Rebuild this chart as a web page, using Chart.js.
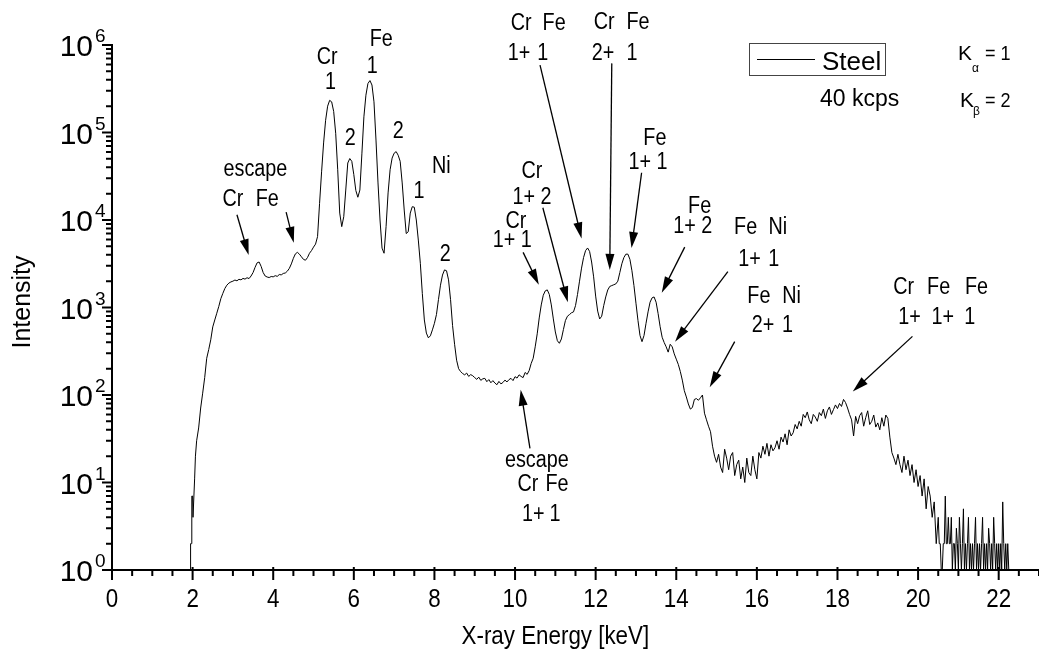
<!DOCTYPE html>
<html>
<head>
<meta charset="utf-8">
<script src="https://cdn.jsdelivr.net/npm/chart.js@4.4.1/dist/chart.umd.min.js"></script>
<style>
  html, body { margin:0; padding:0; background:#fff; }
  #wrap { width:1039px; height:660px; }
</style>
</head>
<body>
<div id="wrap"><canvas id="chart" width="1039" height="660"></canvas></div>
<script>
// ---- spectrum (X-ray energy in keV, counts per channel)
const energy = [
  1.94,1.95,1.97,1.98,2.00,2.01,2.03,2.05,2.07,2.10,
  2.15,2.20,2.25,2.30,2.35,2.40,2.45,
  2.50,2.55,2.60,2.65,2.70,2.75,2.80,2.85,2.90,2.95,
  3.00,3.05,3.10,3.15,3.20,3.25,3.30,3.35,3.40,3.45,
  3.50,3.55,3.60,3.65,3.70,3.75,3.80,3.85,3.90,3.95,
  4.00,4.05,4.10,4.15,4.20,4.25,4.30,4.35,4.40,4.45,
  4.50,4.55,4.60,4.65,4.70,4.75,4.80,4.85,4.90,4.95,
  5.00,5.05,5.10,5.15,5.20,5.25,5.30,5.35,5.40,5.45,
  5.50,5.55,5.60,5.65,5.70,5.75,5.80,5.85,5.90,5.95,
  6.00,6.05,6.10,6.15,6.20,6.25,6.30,6.35,6.40,6.45,
  6.50,6.55,6.60,6.65,6.70,6.75,6.80,6.85,6.90,6.95,
  7.00,7.05,7.10,7.15,7.20,7.25,7.30,7.35,7.40,7.45,
  7.50,7.55,7.60,7.65,7.70,7.75,7.80,7.85,7.90,7.95,
  8.00,8.05,8.10,8.15,8.20,8.25,8.30,8.35,8.40,8.45,
  8.50,8.55,8.60,8.65,8.70,8.75,8.80,8.85,8.90,8.95,
  9.00,9.05,9.10,9.15,9.20,9.25,9.30,9.35,9.40,9.45,
  9.50,9.55,9.60,9.65,9.70,9.75,9.80,9.85,9.90,9.95,
  10.00,10.05,10.10,10.15,10.20,10.25,10.30,10.35,10.40,10.45,
  10.50,10.55,10.60,10.65,10.70,10.75,10.80,10.85,10.90,10.95,
  11.00,11.05,11.10,11.15,11.20,11.25,11.30,11.35,11.40,11.45,
  11.50,11.55,11.60,11.65,11.70,11.75,11.80,11.85,11.90,11.95,
  12.00,12.05,12.10,12.15,12.20,12.25,12.30,12.35,12.40,12.45,
  12.50,12.55,12.60,12.65,12.70,12.75,12.80,12.85,12.90,12.95,
  13.00,13.05,13.10,13.15,13.20,13.25,13.30,13.35,13.40,13.45,
  13.50,13.55,13.60,13.65,13.70,13.75,13.80,13.85,13.90,13.95,
  14.00,14.05,14.10,14.15,14.20,14.25,14.30,14.35,14.40,14.45,
  14.50,14.55,14.60,14.65,14.70,14.75,14.80,14.85,14.90,14.95,
  15.00,15.05,15.10,15.15,15.20,15.25,15.30,15.35,15.40,15.45,
  15.50,15.55,15.60,15.65,15.70,15.75,15.80,15.85,15.90,15.95,
  16.00,16.05,16.10,16.15,16.20,16.25,16.30,16.35,16.40,16.45,
  16.50,16.55,16.60,16.65,16.70,16.75,16.80,16.85,16.90,16.95,
  17.00,17.05,17.10,17.15,17.20,17.25,17.30,17.35,17.40,17.45,
  17.50,17.55,17.60,17.65,17.70,17.75,17.80,17.85,17.90,17.95,
  18.00,18.05,18.10,18.15,18.20,18.25,18.30,18.35,18.40,18.45,
  18.50,18.55,18.60,18.65,18.70,18.75,18.80,18.85,18.90,18.95,
  19.00,19.05,19.10,19.15,19.20,19.25,19.30,19.35,19.40,19.45,
  19.50,19.55,19.60,19.65,19.70,19.75,19.80,19.85,19.90,19.95,
  20.00,20.05,20.10,20.15,20.20,20.25,20.30,20.35,20.40,20.45,
  20.500,20.525,20.550,20.575,20.600,20.625,20.650,20.675,20.700,20.725,
  20.750,20.775,20.800,20.825,20.850,20.875,20.900,20.925,20.950,20.975,
  21.000,21.025,21.050,21.075,21.100,21.125,21.150,21.175,21.200,21.225,
  21.250,21.275,21.300,21.325,21.350,21.375,21.400,21.425,21.450,21.475,
  21.500,21.525,21.550,21.575,21.600,21.625,21.650,21.675,21.700,21.725,
  21.750,21.775,21.800,21.825,21.850,21.875,21.900,21.925,21.950,21.975,
  22.000,22.025,22.050,22.075,22.100,22.125,22.150,22.175,22.200,22.225,
  22.250
];
const counts = [
  1,2,2,7,7,4,4,11,20,30,
  42,71,105,158,263,331,427,
  600,720,860,1030,1260,1450,1650,1800,1900,1960,
  2000,2060,2020,2100,2070,2150,2110,2190,2140,2290,
  2510,2880,3240,3310,2950,2510,2290,2230,2200,2260,
  2240,2310,2270,2380,2360,2450,2480,2600,2800,3150,
  3650,4100,4270,4070,3800,3550,3470,3720,4170,4470,
  4900,5300,6460,15500,35500,76000,138000,200000,233000,224000,
  174000,98000,37500,12000,8400,10900,22000,44800,50400,46800,
  33000,21700,18200,22000,57000,151000,267000,363000,392000,349000,
  224000,82000,26500,10000,4770,4170,8400,20400,37500,51000,
  58000,60500,55000,46800,26500,13000,7000,7350,12000,14200,
  14000,10000,5900,3200,1440,720,510,450,475,555,
  660,830,1230,1800,2350,2690,2630,2070,1230,620,
  380,250,200,185,176,170,178,163,171,166,
  158,151,160,147,153,155,142,150,138,146,
  137,131,143,134,139,148,141,150,155,146,
  162,156,170,163,158,181,172,190,229,263,
  355,500,760,1070,1380,1550,1590,1410,1070,740,
  525,417,390,437,560,710,795,830,870,890,
  1050,1410,2000,2820,3720,4470,4790,4370,3310,2240,
  1350,910,740,795,1050,1320,1585,1740,1780,1820,
  1860,2000,2510,3160,3720,4070,4070,3550,2630,1780,
  1120,710,479,407,479,660,891,1150,1290,1320,
  1150,851,603,457,398,355,309,380,355,295,
  257,224,186,148,112,95,79,69,72,89,
  91,87,93,100,62,52,44,38,26,20,
  17,21,15,13,24,19,14,20,22,12,
  16,18,11,15,10,19,13,12,20,14,
  11,22,19,26,21,28,20,27,23,25,
  30,24,33,29,36,27,40,34,37,46,
  41,50,44,60,55,64,52,47,60,56,
  50,63,58,69,54,66,73,60,68,77,
  70,80,74,89,82,71,60,52,34,57,
  47,58,63,44,55,66,46,50,59,43,
  48,40,55,44,59,54,33,22,19,16,
  21,16,13,20,14,18,12,16,10,14,
  9,12,7,11,5,9,7,4,6,2,
  4,2,2,1,1,2,2,7,2,2,
  4,2,2,4,1,2,2,1,3,2,
  1,4,2,1,2,5,1,2,1,2,
  4,1,2,1,2,1,2,4,1,2,
  1,2,1,2,4,1,2,1,2,1,
  3,2,1,2,1,4,2,1,2,1,
  2,1,2,1,6,2,1,2,1,2,
  1
];

// ---- axes
const xTickLabels = ['0','2','4','6','8','10','12','14','16','18','20','22'];
const yDecades = [0,1,2,3,4,5,6];

// ---- annotations: [text, keV, log10(intensity)]
const peakLabels = [
  ['escape', 3.56, 4.57], ['Cr', 3.00, 4.23], ['Fe', 3.85, 4.23],
  ['Cr', 5.34, 5.86], ['1', 5.42, 5.57],
  ['Fe', 6.68, 6.06], ['1', 6.46, 5.75],
  ['2', 5.91, 4.93], ['2', 7.10, 5.01],
  ['Ni', 8.17, 4.61], ['1', 7.62, 4.32], ['2', 8.27, 3.60],
  ['Cr', 10.15, 6.24], ['Fe', 10.97, 6.24], ['1+', 10.10, 5.90], ['1', 10.69, 5.90],
  ['Cr', 12.21, 6.26], ['Fe', 13.05, 6.26], ['2+', 12.18, 5.90], ['1', 12.90, 5.90],
  ['Fe', 13.47, 4.93], ['1+ 1', 13.30, 4.66],
  ['Cr', 10.42, 4.55], ['1+ 2', 10.42, 4.25],
  ['Cr', 10.02, 3.98], ['1+ 1', 9.93, 3.76],
  ['Fe', 14.58, 4.15], ['1+ 2', 14.41, 3.92],
  ['Fe', 15.72, 3.91], ['Ni', 16.52, 3.91], ['1+', 15.82, 3.55], ['1', 16.42, 3.55],
  ['Fe', 16.05, 3.12], ['Ni', 16.86, 3.12], ['2+', 16.15, 2.79], ['1', 16.76, 2.79],
  ['Cr', 19.64, 3.23], ['Fe', 20.51, 3.23], ['Fe', 21.45, 3.23],
  ['1+', 19.79, 2.88], ['1+', 20.61, 2.88], ['1', 21.28, 2.88],
  ['escape', 10.54, 1.25], ['Cr', 10.32, 0.97], ['Fe', 11.04, 0.97],
  ['1+', 10.45, 0.63], ['1', 10.99, 0.63]
];
// [tail keV, tail log10, tip keV, tip log10]
const arrows = [
  [3.10, 4.06, 3.39, 3.60],
  [4.32, 4.09, 4.51, 3.74],
  [10.62, 5.77, 11.65, 3.79],
  [12.40, 5.79, 12.35, 3.43],
  [13.14, 4.54, 12.89, 3.68],
  [10.69, 4.14, 11.31, 3.06],
  [10.20, 3.63, 10.59, 3.26],
  [14.21, 3.69, 13.64, 3.17],
  [15.28, 3.41, 13.97, 2.61],
  [15.45, 2.61, 14.83, 2.09],
  [19.86, 2.67, 18.38, 2.04],
  [10.37, 1.39, 10.14, 2.06]
];

const FONT = '"Liberation Sans", Arial, sans-serif';
const NARROW = 0.86;

function txt(ctx, s, x, y, size, opts = {}) {
  ctx.save();
  ctx.font = `${size}px ${FONT}`;
  ctx.textAlign = opts.align || 'center';
  ctx.textBaseline = opts.base || 'middle';
  ctx.translate(x, y);
  if (opts.rot) ctx.rotate(opts.rot);
  ctx.scale(opts.sx || 1, 1);
  ctx.fillText(s, 0, 0);
  ctx.restore();
}

function arrow(ctx, x0, y0, x1, y1) {
  const a = Math.atan2(y1 - y0, x1 - x0), L = 16, W = 4.5;
  ctx.beginPath();
  ctx.moveTo(x0, y0);
  ctx.lineTo(x1 - Math.cos(a) * (L - 2), y1 - Math.sin(a) * (L - 2));
  ctx.stroke();
  ctx.beginPath();
  ctx.moveTo(x1, y1);
  ctx.lineTo(x1 - Math.cos(a) * L - Math.sin(a) * W, y1 - Math.sin(a) * L + Math.cos(a) * W);
  ctx.lineTo(x1 - Math.cos(a) * L + Math.sin(a) * W, y1 - Math.sin(a) * L - Math.cos(a) * W);
  ctx.closePath();
  ctx.fill();
}

const decor = {
  id: 'decor',
  afterDraw(chart) {
    const { ctx, chartArea: a, scales: { x, y } } = chart;
    const px = v => x.getPixelForValue(v);
    const py = d => y.getPixelForValue(Math.pow(10, d));
    ctx.save();
    ctx.fillStyle = '#000';
    ctx.strokeStyle = '#000';

    // axis lines + ticks
    ctx.lineWidth = 2;
    ctx.beginPath();
    ctx.moveTo(a.left, a.top); ctx.lineTo(a.left, a.bottom); ctx.lineTo(a.right, a.bottom);
    for (let v = 0; v <= 23; v += 0.5) {
      const X = px(v);
      if (v % 2 === 0) { ctx.moveTo(X, a.bottom - 3); ctx.lineTo(X, a.bottom + 10); }
      else { ctx.moveTo(X, a.bottom); ctx.lineTo(X, a.bottom + 6); }
    }
    yDecades.forEach(d => {
      const Y = py(d);
      ctx.moveTo(a.left + 1, Y); ctx.lineTo(a.left - 10, Y);
      if (d < 6) for (let m = 2; m <= 9; m++) {
        const Ym = y.getPixelForValue(m * Math.pow(10, d));
        ctx.moveTo(a.left, Ym); ctx.lineTo(a.left - 6, Ym);
      }
    });
    ctx.stroke();

    // tick labels
    xTickLabels.forEach(t => txt(ctx, t, px(+t), 607, 26, { sx: NARROW, base: 'alphabetic' }));
    yDecades.forEach(d => {
      const Y = py(d);
      txt(ctx, '10', a.left - 19, Y + 11, 30, { align: 'right', base: 'alphabetic' });
      txt(ctx, String(d), a.left - 17, Y - 3, 19, { align: 'left', base: 'alphabetic' });
    });

    // axis titles
    txt(ctx, 'X-ray Energy [keV]', (a.left + px(22)) / 2, 637, 26, { sx: NARROW });
    txt(ctx, 'Intensity', 23, 302, 25, { rot: -Math.PI / 2 });

    // legend
    ctx.lineWidth = 1;
    ctx.strokeStyle = '#444';
    ctx.strokeRect(749.5, 43.5, 136, 32);
    ctx.strokeStyle = '#000';
    ctx.beginPath(); ctx.moveTo(757, 59.5); ctx.lineTo(815, 59.5); ctx.stroke();
    txt(ctx, 'Steel', 822, 70, 26, { align: 'left', base: 'alphabetic' });
    txt(ctx, '40 kcps', 820, 106, 23, { align: 'left', base: 'alphabetic' });
    txt(ctx, 'K', 958, 60, 21, { align: 'left', base: 'alphabetic' });
    txt(ctx, '\u03b1', 972, 72, 12, { align: 'left', base: 'alphabetic' });
    txt(ctx, '= 1', 985, 60, 21, { align: 'left', base: 'alphabetic', sx: NARROW });
    txt(ctx, 'K', 960, 107, 21, { align: 'left', base: 'alphabetic' });
    txt(ctx, '\u03b2', 973, 115, 12, { align: 'left', base: 'alphabetic' });
    txt(ctx, '= 2', 985, 107, 21, { align: 'left', base: 'alphabetic', sx: NARROW });

    // peak annotations
    peakLabels.forEach(([s, e, d]) => txt(ctx, s, px(e), py(d), 23, { sx: NARROW }));
    ctx.lineWidth = 1.3;
    arrows.forEach(([e0, d0, e1, d1]) => arrow(ctx, px(e0), py(d0), px(e1), py(d1)));
    ctx.restore();
  }
};

const points = energy.map((e, i) => ({ x: e, y: counts[i] }));

new Chart(document.getElementById('chart').getContext('2d'), {
  type: 'line',
  data: {
    datasets: [{
      label: 'Steel',
      data: points,
      borderColor: '#000',
      borderWidth: 1,
      pointRadius: 0,
      tension: 0,
      fill: false
    }]
  },
  options: {
    responsive: false,
    animation: false,
    devicePixelRatio: 1,
    layout: { padding: { left: 112, right: 0, top: 45, bottom: 90 } },
    plugins: { legend: { display: false }, tooltip: { enabled: false } },
    scales: {
      x: { type: 'linear', min: 0, max: 23, display: false },
      y: { type: 'logarithmic', min: 1, max: 1e6, display: false }
    }
  },
  plugins: [decor]
});
</script>
</body>
</html>
